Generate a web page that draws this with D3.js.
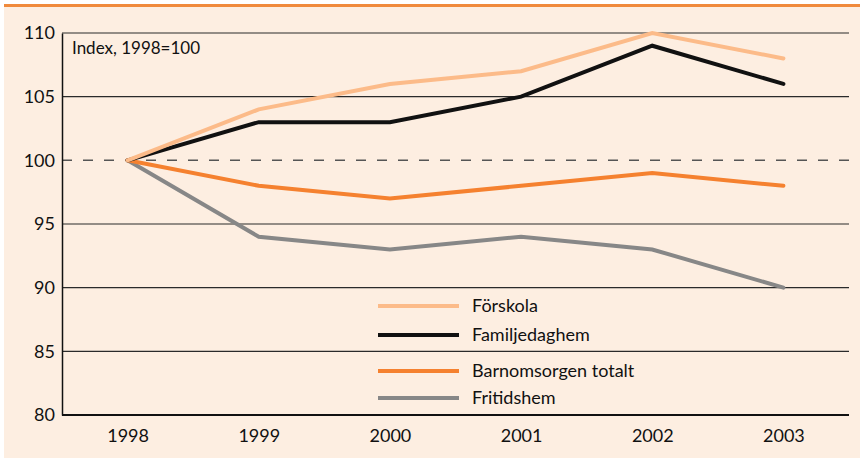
<!DOCTYPE html>
<html>
<head>
<meta charset="utf-8">
<script src="https://cdn.jsdelivr.net/npm/d3@7"></script>
<style>
  body { margin: 0; background: #fff; }
  svg { display: block; font-family: Lato, "Open Sans", sans-serif; }
</style>
</head>
<body>
<div id="chart"></div>
<script>
const years = ["1998", "1999", "2000", "2001", "2002", "2003"];
const forskola = [100, 104, 106, 107, 110, 108];
const familjedaghem = [100, 103, 103, 105, 109, 106];
const barnomsorgen = [100, 98, 97, 98, 99, 98];
const fritidshem = [100, 94, 93, 94, 93, 90];
const yTicks = [80, 85, 90, 95, 100, 105, 110];

const series = [
  { name: "Förskola", values: forskola, color: "#fcbb89" },
  { name: "Familjedaghem", values: familjedaghem, color: "#111111" },
  { name: "Barnomsorgen totalt", values: barnomsorgen, color: "#f5812f" },
  { name: "Fritidshem", values: fritidshem, color: "#878787" }
];

const W = 860, H = 458;
const m = { left: 62, right: 11, top: 33, bottom: 43 };

const svg = d3.select("#chart").append("svg")
    .attr("width", W)
    .attr("height", H);

svg.append("rect")
    .attr("x", 4).attr("y", 7)
    .attr("width", W - 4).attr("height", H - 7)
    .attr("fill", "#fdeee1");

svg.append("line")
    .attr("x1", 4).attr("x2", W)
    .attr("y1", 5.5).attr("y2", 5.5)
    .attr("stroke", "#f08a3c")
    .attr("stroke-width", 3);

const x = d3.scalePoint()
    .domain(years)
    .range([m.left, W - m.right])
    .padding(0.5);

const y = d3.scaleLinear()
    .domain([80, 110])
    .range([H - m.bottom, m.top]);

// grid lines
svg.append("g")
  .selectAll("line")
  .data(yTicks.filter(d => d !== 80))
  .join("line")
    .attr("x1", m.left).attr("x2", W - m.right)
    .attr("y1", d => y(d)).attr("y2", d => y(d))
    .attr("stroke", d => d === 100 ? "#555" : "#2a2a2a")
    .attr("stroke-width", d => d === 100 ? 1.5 : 1.2)
    .attr("stroke-dasharray", d => d === 100 ? "10,11" : null);

// y axis
const yAxis = svg.append("g")
    .attr("transform", `translate(${m.left},0)`)
    .call(d3.axisLeft(y).tickValues(yTicks).tickSize(0).tickPadding(7));
yAxis.select(".domain").attr("stroke", "#111").attr("stroke-width", 1.5);
yAxis.selectAll("text")
    .attr("font-size", 18)
    .attr("font-family", "Lato, sans-serif")
    .attr("fill", "#111");

// x axis
const xAxis = svg.append("g")
    .attr("transform", `translate(0,${H - m.bottom})`)
    .call(d3.axisBottom(x).tickSize(0).tickPadding(14));
xAxis.select(".domain")
    .attr("d", `M${m.left},0H${W - m.right}`)
    .attr("stroke", "#111").attr("stroke-width", 2);
xAxis.selectAll("text")
    .attr("font-size", 18)
    .attr("font-family", "Lato, sans-serif")
    .attr("fill", "#111");

svg.append("text")
    .attr("x", 72).attr("y", 54)
    .attr("font-size", 17)
    .attr("fill", "#111")
    .text("Index, 1998=100");

const line = d3.line()
    .x((d, i) => x(years[i]))
    .y(d => y(d));

svg.append("g")
  .selectAll("path")
  .data(series.slice().reverse())
  .join("path")
    .attr("d", d => line(d.values))
    .attr("fill", "none")
    .attr("stroke", d => d.color)
    .attr("stroke-width", 4)
    .attr("stroke-linejoin", "miter")
    .attr("stroke-linecap", "round");

// legend
const legendY = [306, 335, 371, 398];
const legend = svg.append("g")
  .selectAll("g")
  .data(series)
  .join("g")
    .attr("transform", (d, i) => `translate(378,${legendY[i]})`);

legend.append("line")
    .attr("x1", 0).attr("x2", 81)
    .attr("stroke", d => d.color)
    .attr("stroke-width", 4);

legend.append("text")
    .attr("x", 94).attr("y", 6)
    .attr("font-size", 18)
    .attr("fill", "#111")
    .text(d => d.name);
</script>
</body>
</html>
